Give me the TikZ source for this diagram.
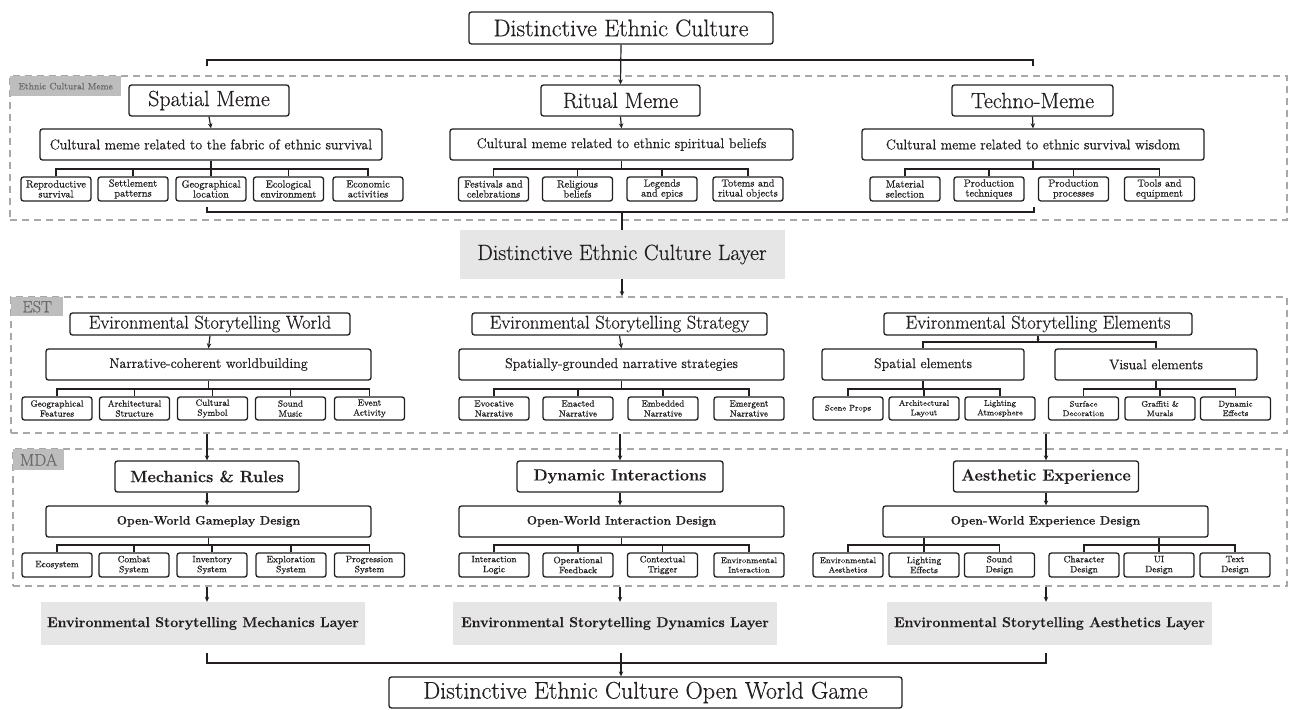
\documentclass[tikz,border=0pt]{standalone}
\usepackage{fontspec}
\setmainfont{Latin Modern Roman}[UprightFeatures={FakeBold=0.5}, BoldFeatures={FakeBold=0.2}]
\usetikzlibrary{arrows.meta}
\definecolor{ink}{HTML}{231F20}
\definecolor{dashgray}{HTML}{A8A8A8}
\definecolor{labelbg}{HTML}{BDBDBD}
\definecolor{labeltext}{HTML}{6A6A6A}
\definecolor{layerbg}{HTML}{E6E6E6}
\newcommand\fs[1]{\fontsize{#1}{#1}\selectfont}
\newcommand\treelinks[5]{%
  \draw[conn] (#1.south) -- (#1.south |- #2);
  \draw[conn] (#3.north) -- (#3.north |- #2) -- (#4.north |- #2) -- (#4.north);
  \foreach \q in {#5} {\draw[conn] (\q.north) -- (\q.north |- #2);}
}
\tikzset{
  box/.style={draw=ink, line width=1.3pt, rounded corners=2.5pt, inner sep=0pt, align=center, text=ink},
  hdA/.style={box, minimum height=31pt, font=\fs{22}},
  midA/.style={box, minimum height=31pt, font=\fs{14}},
  leafA/.style={box, minimum width=70pt, minimum height=24pt, font=\fontsize{10.3}{10}\selectfont},
  hdB/.style={box, minimum height=22pt, font=\fs{18.5}},
  leafB/.style={box, minimum width=70pt, minimum height=23pt, font=\fontsize{9}{10}\selectfont},
  hdC/.style={box, minimum height=31pt, font=\fontsize{16.3}{16.3}\selectfont\bfseries},
  midC/.style={box, minimum height=31pt, minimum width=325pt, font=\fontsize{12.2}{12.2}\selectfont\bfseries},
  leafC/.style={box, minimum width=70pt, minimum height=24pt, font=\fontsize{9.2}{10}\selectfont},
  small/.style={font=\fontsize{8.2}{9.5}\selectfont},
  layerbox/.style={fill=layerbg, inner sep=0pt, text=ink, minimum height=43pt, minimum width=324pt, font=\fontsize{14.2}{14.2}\selectfont\bfseries},
  dashbox/.style={draw=dashgray, line width=1.8pt, dash pattern=on 7pt off 5pt, inner sep=0pt},
  tag/.style={fill=labelbg, text=labeltext, inner sep=0pt, anchor=north west},
  conn/.style={draw=ink, line width=1.2pt},
  arr/.style={conn, -{Stealth[length=5pt,width=4.5pt]}},
}
\begin{document}
\begin{tikzpicture}[x=1pt,y=-1pt]
\useasboundingbox (0,0) rectangle (1289,709);

% ---------------- Section 1: Ethnic Cultural Meme
\node[dashbox, minimum width=1277pt, minimum height=144pt] (memebox) at (648.5,148) {};
\node[tag, minimum width=111pt, minimum height=20pt, font=\fs{9.3}] (memetag) at (10,76) {Ethnic Cultural Meme};

\node[box, minimum width=304pt, minimum height=32pt, font=\fs{24}] (title) at (621,28) {Distinctive Ethnic Culture};

\node[hdA, minimum width=160pt] (spm) at (209,100.5) {Spatial Meme};
\node[hdA, minimum width=159pt] (rim) at (620.5,100.5) {Ritual Meme};
\node[hdA, minimum width=161pt] (tem) at (1032.5,100.5) {Techno-Meme};

\node[midA, minimum width=342pt] (spd) at (211,144.5) {Cultural meme related to the fabric of ethnic survival};
\node[midA, minimum width=343pt] (rid) at (621.5,144.5) {Cultural meme related to ethnic spiritual beliefs};
\node[midA, minimum width=342pt] (ted) at (1033,144.5) {Cultural meme related to ethnic survival wisdom};

\node[leafA] (s1) at (56,189) {Reproductive\\survival};
\node[leafA] (s2) at (133,189) {Settlement\\patterns};
\node[leafA] (s3) at (211,189) {Geographical\\location};
\node[leafA] (s4) at (288.5,189) {Ecological\\environment};
\node[leafA] (s5) at (368,189) {Economic\\activities};

\node[leafA] (r1) at (493.5,189) {Festivals and\\celebrations};
\node[leafA] (r2) at (577.5,189) {Religious\\beliefs};
\node[leafA] (r3) at (662,189) {Legends\\and epics};
\node[leafA] (r4) at (748,189) {Totems and\\ritual objects};

\node[leafA] (t1) at (905,189) {Material\\selection};
\node[leafA] (t2) at (989,189) {Production\\techniques};
\node[leafA] (t3) at (1073.5,189) {Production\\processes};
\node[leafA] (t4) at (1159.5,189) {Tools and\\equipment};

\coordinate (barA) at (0,169);
\treelinks{spd}{barA}{s1}{s5}{s2,s3,s4}
\treelinks{rid}{barA}{r1}{r4}{r2,r3}
\treelinks{ted}{barA}{t1}{t4}{t2,t3}

\draw[arr] (title.south) -- (rim.north);
\draw[arr] (spm.south) -- (spd.north);
\draw[arr] (rim.south) -- (rid.north);
\draw[arr] (tem.south) -- (ted.north);

\coordinate (ta1) at (207,66);
\coordinate (ta2) at (1033,66);
\coordinate (tam) at (621,60);
\draw[conn] (ta1) -- (ta1 |- tam) -- (ta2 |- tam) -- (ta2);

\node[layerbox, minimum width=325pt, minimum height=49pt, font=\fs{22}] (layer0) at (622,254.5) {Distinctive Ethnic Culture Layer};

\coordinate (ba1) at (207,207);
\coordinate (ba2) at (1034,207);
\coordinate (bam) at (622,212);
\draw[conn] (ba1) -- (ba1 |- bam) -- (ba2 |- bam) -- (ba2);
\draw[conn] (bam) -- (layer0.north);

% ---------------- Section 2: EST
\node[dashbox, minimum width=1276pt, minimum height=136pt] (estbox) at (649,365) {};
\node[tag, minimum width=52pt, minimum height=19pt, font=\fs{16.3}] (esttag) at (11,297) {EST};
\draw[arr] (layer0.south) -- (layer0.south |- estbox.north);

\node[hdB, minimum width=280pt] (ew) at (210,324) {Evironmental Storytelling World};
\node[hdB, minimum width=295pt] (es) at (619.5,324) {Evironmental Storytelling Strategy};
\node[hdB, minimum width=308pt] (ee) at (1038,324) {Evironmental Storytelling Elements};

\node[midA, minimum width=325pt] (ewd) at (208.5,364.5) {Narrative-coherent worldbuilding};
\node[midA, minimum width=325pt] (esd) at (621.5,364.5) {Spatially-grounded narrative strategies};
\node[midA, minimum width=202pt] (spel) at (923,364.5) {Spatial elements};
\node[midA, minimum width=202pt] (visel) at (1156,364.5) {Visual elements};

\node[leafB] (w1) at (57,408.5) {Geographical\\Features};
\node[leafB] (w2) at (134.5,408.5) {Architectural\\Structure};
\node[leafB] (w3) at (212.5,408.5) {Cultural\\Symbol};
\node[leafB] (w4) at (290.5,408.5) {Sound\\Music};
\node[leafB] (w5) at (369.5,408.5) {Event\\Activity};

\node[leafB] (g1) at (494,408.5) {Evocative\\Narrative};
\node[leafB] (g2) at (578,408.5) {Enacted\\Narrative};
\node[leafB] (g3) at (663,408.5) {Embedded\\Narrative};
\node[leafB] (g4) at (749,408.5) {Emergent\\Narrative};

\node[leafB, small] (e1) at (848,408.5) {Scene Props};
\node[leafB, small] (e2) at (924,408.5) {Architectural\\Layout};
\node[leafB, small] (e3) at (1000,408.5) {Lighting\\Atmosphere};
\node[leafB, small] (e4) at (1083.5,408.5) {Surface\\Decoration};
\node[leafB, small] (e5) at (1160,408.5) {Graffiti \&\\Murals};
\node[leafB, small] (e6) at (1235.5,408.5) {Dynamic\\Effects};

\draw[arr] (ew.south) -- (ewd.north);
\draw[arr] (es.south) -- (esd.north);

\coordinate (barB) at (0,389);
\coordinate (barE) at (0,342);
\treelinks{ewd}{barB}{w1}{w5}{w2,w3,w4}
\treelinks{esd}{barB}{g1}{g4}{g2,g3}
\treelinks{spel}{barB}{e1}{e3}{e2}
\treelinks{visel}{barB}{e4}{e6}{e5}
\draw[conn, -{Stealth[length=3pt,width=3pt]}] (ee.south) -- (ee.south |- barE);
\draw[conn] (spel.north) -- (spel.north |- barE) -- (visel.north |- barE) -- (visel.north);

% ---------------- Section 3: MDA
\node[dashbox, minimum width=1274pt, minimum height=137pt] (mdabox) at (650,517.5) {};
\node[tag, minimum width=51pt, minimum height=21pt, font=\fs{16.9}] (mdatag) at (13,449) {MDA};

\node[hdC, minimum width=184pt] (mr) at (207,476.5) {Mechanics \& Rules};
\node[hdC, minimum width=206pt] (di) at (620,476.5) {Dynamic Interactions};
\node[hdC, minimum width=185pt] (ae) at (1046,476.5) {Aesthetic Experience};

\draw[arr] (mr.north |- estbox.south) -- (mr.north);
\draw[arr] (di.north |- estbox.south) -- (di.north);
\draw[arr] (ae.north |- estbox.south) -- (ae.north);

\node[midC] (mrd) at (208.5,521.5) {Open-World Gameplay Design};
\node[midC] (did) at (621.5,521.5) {Open-World Interaction Design};
\node[midC] (aed) at (1045.5,521.5) {Open-World Experience Design};

\draw[arr] (mr.south) -- (mr.south |- mrd.north);
\draw[arr] (di.south) -- (di.south |- did.north);
\draw[arr] (ae.south) -- (ae.south |- aed.north);

\node[leafC] (m1) at (57,565) {Ecosystem};
\node[leafC] (m2) at (134,565) {Combat\\System};
\node[leafC] (m3) at (212,565) {Inventory\\System};
\node[leafC] (m4) at (291,565) {Exploration\\System};
\node[leafC] (m5) at (369.5,565) {Progression\\System};

\node[leafC] (d1) at (494,565) {Interaction\\Logic};
\node[leafC] (d2) at (578,565) {Operational\\Feedback};
\node[leafC] (d3) at (662.5,565) {Contextual\\Trigger};
\node[leafC, small] (d4) at (749,565) {Environmental\\Interaction};

\node[leafC, small] (a1) at (848,565) {Environmental\\Aesthetics};
\node[leafC] (a2) at (924,565) {Lighting\\Effects};
\node[leafC] (a3) at (999.5,565) {Sound\\Design};
\node[leafC] (a4) at (1084,565) {Character\\Design};
\node[leafC] (a5) at (1159,565) {UI\\Design};
\node[leafC] (a6) at (1235,565) {Text\\Design};

\coordinate (barC) at (0,545);
\treelinks{mrd}{barC}{m1}{m5}{m2,m3,m4}
\treelinks{did}{barC}{d1}{d4}{d2,d3}
\draw[conn] (a2.north |- aed.south) -- (a2.north);
\draw[conn] (a1.north) -- (a1.north |- barC) -- (a3.north |- barC) -- (a3.north);
\draw[conn] (a5.north |- aed.south) -- (a5.north);
\draw[conn] (a4.north) -- (a4.north |- barC) -- (a6.north |- barC) -- (a6.north);

% ---------------- Layers
\node[layerbox] (mL) at (203,623.5) {Environmental Storytelling Mechanics Layer};
\node[layerbox] (dL) at (615,623.5) {Environmental Storytelling Dynamics Layer};
\node[layerbox, minimum width=325pt] (aL) at (1049.5,623.5) {Environmental Storytelling Aesthetics Layer};

\draw[arr] (mr.south |- mdabox.south) -- (mr.south |- mL.north);
\draw[arr] (di.south |- mdabox.south) -- (di.south |- dL.north);
\draw[arr] (ae.south |- mdabox.south) -- (ae.south |- aL.north);

\node[box, minimum width=513pt, minimum height=31pt, font=\fs{24}] (final) at (645.5,692.5) {Distinctive Ethnic Culture Open World Game};

\coordinate (bb1) at (207,653);
\coordinate (bb2) at (1046,653);
\coordinate (bbm) at (621,653);
\coordinate (bbh) at (0,663);
\draw[conn] (bb1) -- (bb1 |- bbh) -- (bb2 |- bbh) -- (bb2);
\draw[arr] (bbm) -- (bbm |- final.north);
\end{tikzpicture}
\end{document}
